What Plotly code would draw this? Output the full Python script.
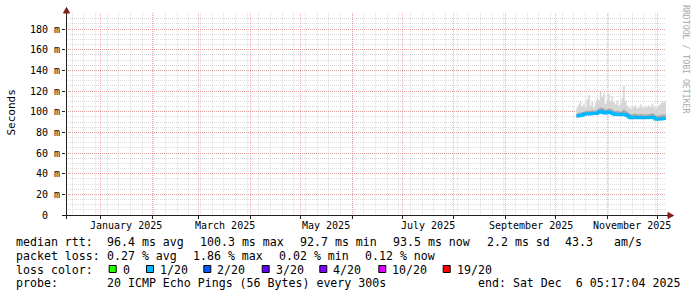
import pandas as pd
import plotly.graph_objects as go

# ---------------- data ----------------
day_dates = pd.date_range("2025-10-13 12:00", periods=55, freq="D")
median_ms = [95.8, 96.0, 96.2, 96.8, 97.4, 97.8, 98.0, 97.8, 98.0, 98.3,
             98.5, 98.2, 98.6, 99.4, 100.3, 99.8, 99.0, 98.6, 99.2, 99.6,
             99.0, 98.4, 97.8, 97.2, 97.6, 97.2, 97.0, 97.4, 97.6, 97.0,
             96.4, 95.0, 94.2, 94.0, 94.3, 94.5, 94.2, 94.0, 94.3, 94.1,
             94.0, 94.2, 94.0, 94.3, 94.4, 94.8, 94.0, 93.0, 92.7, 92.8,
             93.0, 93.2, 93.3, 93.4, 93.5]
smoke_max_ms = [104, 107, 110, 105, 108, 104, 112, 116, 106, 110,
                104, 109, 113, 111, 119, 114, 118, 108, 112, 117,
                110, 115, 109, 107, 111, 106, 108, 113, 124.8, 110,
                106, 104, 103, 105, 104, 106, 103, 104, 107, 104,
                103, 105, 104, 106, 104, 108, 105, 103, 104, 106,
                108, 110, 109, 110, 109.6]
smoke_upper_ms = [98.5, 99, 99, 99.5, 100, 100.5, 101, 101, 101, 101.5,
                  101, 101, 102, 103, 104, 103.5, 103, 102, 102.5, 103,
                  102.5, 102, 101, 100.5, 101, 100.5, 100, 101, 102, 101,
                  100, 98.5, 97.5, 97.5, 97.8, 98, 97.5, 97.3, 97.8, 97.5,
                  97.2, 97.5, 97.3, 97.8, 98, 98.5, 98, 96.5, 96, 96.2,
                  96.5, 97, 97, 97, 97]
smoke_min_ms = [94.5, 94.8, 95, 95.5, 96, 96.5, 96.8, 96.5, 96.8, 97,
                97.2, 97, 97.3, 98, 98.8, 98.5, 97.8, 97.3, 97.8, 98.2,
                97.8, 97.2, 96.6, 96, 96.4, 96, 95.8, 96.2, 96.4, 95.8,
                95.2, 93.8, 93, 92.9, 93.2, 93.4, 93.1, 92.9, 93.2, 93,
                92.9, 93.1, 92.9, 93.2, 93.3, 93.5, 92.8, 91.9, 91.6, 91.7,
                91.9, 92.1, 92.2, 92.3, 92.4]

x_start = "2024-12-11 05:17:04"
x_end = "2025-12-06 05:17:04"
month_label_texts = ["January 2025", "March 2025", "May 2025",
                     "July 2025", "September 2025", "November 2025"]
month_label_months = ["2025-01", "2025-03", "2025-05",
                      "2025-07", "2025-09", "2025-11"]
y_tick_values_ms = [0, 20, 40, 60, 80, 100, 120, 140, 160, 180]
y_tick_texts = ["0\u00a0\u00a0", "20 m", "40 m", "60 m", "80 m",
                "100 m", "120 m", "140 m", "160 m", "180 m"]

rtt_texts = ["median rtt:", "96.4 ms avg", "100.3 ms max", "92.7 ms min",
             "93.5 ms now", "2.2 ms sd", "43.3", "am/s"]
loss_texts = ["packet loss:", "0.27 % avg", "1.86 % max", "0.02 % min",
              "0.12 % now"]
loss_color_labels = ["0", "1/20", "2/20", "3/20", "4/20", "10/20", "19/20"]
loss_color_values = ["#26ff00", "#00b8ff", "#0059ff", "#5e00ff",
                     "#7e00ff", "#dd00ff", "#ff0000"]
probe_texts = ["probe:", "20 ICMP Echo Pings (56 Bytes) every 300s",
               "end: Sat Dec  6 05:17:04 2025"]

# ---------------- layout helpers ----------------
W, H = 697, 297
L, R, T, B = 66, 666, 13, 215
MONO = "DejaVu Sans Mono"


def px(x):
    return (x - L) / (R - L)


def py(y):
    return (B - y) / (B - T)


to_s = lambda arr: [v / 1000.0 for v in arr]

fig = go.Figure()

# smoke: outer band
fig.add_trace(go.Scatter(x=day_dates, y=to_s(smoke_min_ms), mode="lines",
                         line=dict(width=0, shape="hv"), hoverinfo="skip",
                         showlegend=False))
fig.add_trace(go.Scatter(x=day_dates, y=to_s(smoke_max_ms), mode="lines",
                         line=dict(width=0, shape="hv"), fill="tonexty",
                         fillcolor="#d6d6d6", hoverinfo="skip",
                         showlegend=False))
# smoke: inner band
fig.add_trace(go.Scatter(x=day_dates, y=to_s(smoke_min_ms), mode="lines",
                         line=dict(width=0, shape="hv"), hoverinfo="skip",
                         showlegend=False))
fig.add_trace(go.Scatter(x=day_dates, y=to_s(smoke_upper_ms), mode="lines",
                         line=dict(width=0, shape="hv"), fill="tonexty",
                         fillcolor="#a8a8a8", hoverinfo="skip",
                         showlegend=False))
# median line
fig.add_trace(go.Scatter(x=day_dates, y=to_s(median_ms), mode="lines",
                         line=dict(width=3, shape="hv", color="#00b8ff"),
                         hoverinfo="skip", showlegend=False))

month_starts = pd.date_range("2025-01-01", "2025-12-01", freq="MS")

GRID = "rgba(150,150,150,0.32)"
MGRID = "rgba(222,81,81,0.45)"

fig.update_xaxes(
    type="date", range=[x_start, x_end],
    tickmode="array", tickvals=month_starts, showticklabels=False,
    ticks="outside", ticklen=3, tickcolor="#1f1f1f",
    showgrid=True, gridcolor=MGRID, griddash="1px,1px", gridwidth=1,
    minor=dict(tickmode="linear", dtick=7 * 86400000, tick0="2024-12-15",
               showgrid=True, gridcolor=GRID, griddash="1px,1px",
               gridwidth=1),
    showline=False, zeroline=False, fixedrange=True,
)
fig.update_yaxes(
    range=[0, 0.1955],
    tickmode="array", tickvals=to_s(y_tick_values_ms), ticktext=y_tick_texts,
    tickfont=dict(family=MONO, size=10, color="#000000"),
    ticks="outside", ticklen=3, tickcolor="#1f1f1f",
    showgrid=True, gridcolor=MGRID, griddash="1px,1px", gridwidth=1,
    minor=dict(tickmode="linear", dtick=0.005, tick0=0, showgrid=True,
               gridcolor=GRID, griddash="1px,1px", gridwidth=1),
    showline=False, zeroline=False, fixedrange=True,
)

shapes = []
# axes lines
shapes.append(dict(type="line", xref="paper", yref="paper",
                   x0=px(62), x1=px(669), y0=py(215.5), y1=py(215.5),
                   line=dict(color="#1f1f1f", width=1)))
shapes.append(dict(type="line", xref="paper", yref="paper",
                   x0=px(66.5), x1=px(66.5), y0=py(219), y1=py(11),
                   line=dict(color="#1f1f1f", width=1)))
# arrows
shapes.append(dict(type="path", xref="paper", yref="paper",
                   path=f"M {px(63.5)} {py(13)} L {px(69.5)} {py(13)} L {px(66.5)} {py(7.5)} Z",
                   fillcolor="#7f1f1f", line=dict(color="#7f1f1f", width=1)))
shapes.append(dict(type="path", xref="paper", yref="paper",
                   path=f"M {px(668)} {py(212.5)} L {px(668)} {py(218.5)} L {px(673.5)} {py(215.5)} Z",
                   fillcolor="#7f1f1f", line=dict(color="#7f1f1f", width=1)))

annotations = []


def txt(x, y, s, size=11.6, color="#000000", anchor="left", angle=0,
        xref="paper", yanchor="middle"):
    annotations.append(dict(x=x, y=y, xref=xref, yref="paper", text=s,
                            showarrow=False, xanchor=anchor, yanchor=yanchor,
                            textangle=angle, borderpad=0, borderwidth=0,
                            font=dict(family=MONO, size=size, color=color)))


# month labels, centred mid-month
for lab, m in zip(month_label_texts, month_label_months):
    s = pd.Timestamp(m + "-01")
    e = s + pd.offsets.MonthBegin(1)
    mid = s + (e - s) / 2
    txt(mid, py(225.5), lab, size=10, anchor="center", xref="x")

# y title
txt(px(10.5), py(113), "Seconds", size=11, anchor="center", angle=-90)
# watermark
txt(px(686), py(59), "RRDTOOL / TOBI OETIKER", size=8.2, color="#a8a8a8",
    anchor="center", angle=90)

# legend rows
rtt_x = [16, 107, 199.5, 299.5, 393, 486.5, 564.5, 613.5]
for s, x in zip(rtt_texts, rtt_x):
    txt(px(x), py(242), s)
loss_x = [16, 107, 193, 278.5, 364.5]
for s, x in zip(loss_texts, loss_x):
    txt(px(x), py(255.5), s)
txt(px(16), py(269.5), "loss color:")
box_x = [108.7, 146, 203.3, 261.7, 319.3, 378.3, 442.7]
for lab, col, x in zip(loss_color_labels, loss_color_values, box_x):
    shapes.append(dict(type="rect", xref="paper", yref="paper",
                       x0=px(x + 0.5), x1=px(x + 7.5), y0=py(272.5), y1=py(265.5),
                       fillcolor=col, line=dict(color="#000000", width=1)))
    txt(px(x + 14), py(269.5), lab)
probe_x = [16, 107, 478]
for s, x in zip(probe_texts, probe_x):
    txt(px(x), py(283), s)

fig.update_layout(
    width=W, height=H,
    margin=dict(l=L, r=W - R, t=T, b=H - B, pad=0),
    paper_bgcolor="#ffffff", plot_bgcolor="#ffffff",
    shapes=shapes, annotations=annotations,
    showlegend=False, hovermode=False,
    font=dict(family=MONO, size=10, color="#000000"),
)

fig.write_html("out.html", config={"displayModeBar": False})
